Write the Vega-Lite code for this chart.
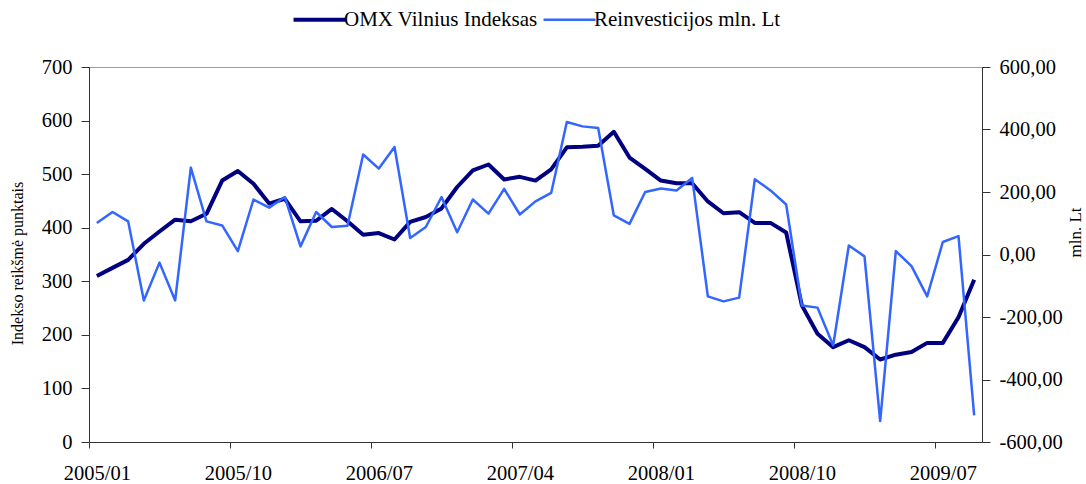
{
  "$schema": "https://vega.github.io/schema/vega-lite/v6.json",
  "width": 893,
  "height": 375,
  "autosize": "none",
  "padding": {"left": 89, "top": 67, "right": 104, "bottom": 42},
  "background": "white",
  "config": {
    "view": {"stroke": "#9a9a9a", "strokeWidth": 1},
    "font": "Liberation Serif",
    "axis": {
      "labelFont": "Liberation Serif",
      "titleFont": "Liberation Serif",
      "labelColor": "black",
      "titleColor": "black",
      "domainColor": "#333333",
      "tickColor": "#333333",
      "grid": false,
      "titleFontWeight": "normal",
      "labelFontSize": 20.5
    },
    "legend": {
      "labelFont": "Liberation Serif",
      "labelFontSize": 21,
      "labelColor": "black",
      "labelLimit": 0
    }
  },
  "data": {
    "values": [
      {"m": "2005/01", "omx": 310, "reinv": 101},
      {"m": "2005/02", "omx": 325, "reinv": 136},
      {"m": "2005/03", "omx": 340, "reinv": 106},
      {"m": "2005/04", "omx": 370, "reinv": -147},
      {"m": "2005/05", "omx": 393, "reinv": -26},
      {"m": "2005/06", "omx": 415, "reinv": -147},
      {"m": "2005/07", "omx": 412, "reinv": 278},
      {"m": "2005/08", "omx": 426, "reinv": 106},
      {"m": "2005/09", "omx": 488, "reinv": 93},
      {"m": "2005/10", "omx": 506, "reinv": 11},
      {"m": "2005/11", "omx": 482, "reinv": 176},
      {"m": "2005/12", "omx": 445, "reinv": 150},
      {"m": "2006/01", "omx": 454, "reinv": 184},
      {"m": "2006/02", "omx": 412, "reinv": 26},
      {"m": "2006/03", "omx": 413, "reinv": 136},
      {"m": "2006/04", "omx": 435, "reinv": 88},
      {"m": "2006/05", "omx": 412, "reinv": 92},
      {"m": "2006/06", "omx": 387, "reinv": 320},
      {"m": "2006/07", "omx": 390, "reinv": 275},
      {"m": "2006/08", "omx": 378, "reinv": 344},
      {"m": "2006/09", "omx": 411, "reinv": 53},
      {"m": "2006/10", "omx": 420, "reinv": 88},
      {"m": "2006/11", "omx": 436, "reinv": 184},
      {"m": "2006/12", "omx": 476, "reinv": 71},
      {"m": "2007/01", "omx": 507, "reinv": 176},
      {"m": "2007/02", "omx": 518, "reinv": 131},
      {"m": "2007/03", "omx": 490, "reinv": 210},
      {"m": "2007/04", "omx": 495, "reinv": 128},
      {"m": "2007/05", "omx": 488, "reinv": 170},
      {"m": "2007/06", "omx": 509, "reinv": 197},
      {"m": "2007/07", "omx": 550, "reinv": 424},
      {"m": "2007/08", "omx": 551, "reinv": 410},
      {"m": "2007/09", "omx": 553, "reinv": 405},
      {"m": "2007/10", "omx": 579, "reinv": 125},
      {"m": "2007/11", "omx": 531, "reinv": 98},
      {"m": "2007/12", "omx": 510, "reinv": 200},
      {"m": "2008/01", "omx": 488, "reinv": 211},
      {"m": "2008/02", "omx": 483, "reinv": 205},
      {"m": "2008/03", "omx": 483, "reinv": 245},
      {"m": "2008/04", "omx": 449, "reinv": -134},
      {"m": "2008/05", "omx": 427, "reinv": -150},
      {"m": "2008/06", "omx": 429, "reinv": -138},
      {"m": "2008/07", "omx": 409, "reinv": 241},
      {"m": "2008/08", "omx": 409, "reinv": 205},
      {"m": "2008/09", "omx": 391, "reinv": 160},
      {"m": "2008/10", "omx": 255, "reinv": -163},
      {"m": "2008/11", "omx": 202, "reinv": -170},
      {"m": "2008/12", "omx": 177, "reinv": -291},
      {"m": "2009/01", "omx": 190, "reinv": 29},
      {"m": "2009/02", "omx": 177, "reinv": -6},
      {"m": "2009/03", "omx": 154, "reinv": -533},
      {"m": "2009/04", "omx": 163, "reinv": 11},
      {"m": "2009/05", "omx": 168, "reinv": -37},
      {"m": "2009/06", "omx": 185, "reinv": -134},
      {"m": "2009/07", "omx": 185, "reinv": 40},
      {"m": "2009/08", "omx": 233, "reinv": 59},
      {"m": "2009/09", "omx": 303, "reinv": -515}
    ]
  },
  "encoding": {
    "x": {
      "field": "m",
      "type": "ordinal",
      "scale": {"type": "point", "padding": 0.5},
      "axis": {
        "title": null,
        "values": ["2005/01", "2005/10", "2006/07", "2007/04", "2008/01", "2008/10", "2009/07"],
        "labelAngle": 0,
        "tickSize": 6,
        "labelPadding": 15,
        "tickOffset": -7.84,
        "labelOffset": 7.84
      }
    }
  },
  "layer": [
    {
      "mark": {"type": "line", "strokeWidth": 4, "strokeJoin": "round"},
      "encoding": {
        "y": {
          "field": "omx",
          "type": "quantitative",
          "scale": {"domain": [0, 700], "nice": false, "zero": false},
          "axis": {
            "values": [0, 100, 200, 300, 400, 500, 600, 700],
            "format": "d",
            "tickSize": 8,
            "labelPadding": 9,
            "title": "Indekso reikšmė punktais",
            "titleFontSize": 16,
            "titleAngle": -90,
            "titleX": -72,
            "titleY": 196,
            "titleAlign": "center",
            "titleBaseline": "middle"
          }
        },
        "color": {
          "datum": "OMX Vilnius Indeksas",
          "type": "nominal",
          "scale": {
            "domain": ["OMX Vilnius Indeksas", "Reinvesticijos mln. Lt"],
            "range": ["#000080", "#3366ff"]
          },
          "legend": {
            "title": null,
            "orient": "none",
            "legendX": 220,
            "legendY": -58,
            "direction": "horizontal",
            "symbolType": "stroke",
            "symbolSize": 2700,
            "symbolStrokeWidth": 4,
            "labelOffset": 14,
            "columnPadding": 0,
            "encode": {
              "symbols": {
                "update": {
                  "strokeWidth": {"signal": "datum.value === 'OMX Vilnius Indeksas' ? 4 : 2.5"}
                }
              }
            }
          }
        }
      }
    },
    {
      "mark": {"type": "line", "strokeWidth": 2.5, "strokeJoin": "round"},
      "encoding": {
        "y": {
          "field": "reinv",
          "type": "quantitative",
          "scale": {"domain": [-600, 600], "nice": false, "zero": false},
          "axis": {
            "orient": "right",
            "values": [-600, -400, -200, 0, 200, 400, 600],
            "labelExpr": "replace((datum.value < 0 ? '-' : '') + format(abs(datum.value), '.2f'), '.', ',')",
            "tickSize": 8,
            "labelPadding": 9,
            "title": "mln. Lt",
            "titleFontSize": 17,
            "titleAngle": -90,
            "titleX": 93,
            "titleY": 165,
            "titleAlign": "center",
            "titleBaseline": "middle"
          }
        },
        "color": {"datum": "Reinvesticijos mln. Lt", "type": "nominal"}
      }
    }
  ],
  "resolve": {"scale": {"y": "independent"}}
}
